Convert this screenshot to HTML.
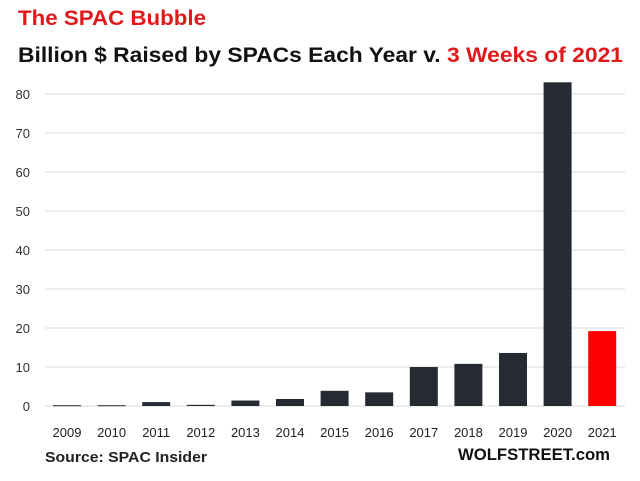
<!DOCTYPE html>
<html><head><meta charset="utf-8"><style>
body{margin:0;background:#fff;}
svg{display:block;font-family:"Liberation Sans",sans-serif;}
</style></head><body>
<svg id="c" width="640" height="481">
<text x="18" y="25" font-size="21" font-weight="bold" fill="#e0191b" textLength="188" lengthAdjust="spacingAndGlyphs">The SPAC Bubble</text>
<text x="18" y="62" font-size="21" font-weight="bold" fill="#111" textLength="605" lengthAdjust="spacingAndGlyphs">Billion $ Raised by SPACs Each Year v. <tspan fill="#e0191b">3 Weeks of 2021</tspan></text>
<g id="grid"></g><g id="bars"></g><g id="xl"></g>
<text x="45" y="462" font-size="15" font-weight="bold" fill="#222" textLength="162" lengthAdjust="spacingAndGlyphs">Source: SPAC Insider</text>
<text x="610" y="460" font-size="17" font-weight="bold" fill="#111" text-anchor="end" textLength="152" lengthAdjust="spacingAndGlyphs">WOLFSTREET.com</text>
</svg>
<script>
const categories=["2009","2010","2011","2012","2013","2014","2015","2016","2017","2018","2019","2020","2021"];
const values=[0.2,0.2,1.0,0.3,1.4,1.8,3.9,3.5,10.0,10.8,13.6,83.0,19.2];
const ticks=[0,10,20,30,40,50,60,70,80];
const NS="http://www.w3.org/2000/svg";
const y=v=>406-v*3.9;
const x=i=>67+i*44.6;
function mk(t,a,p){const e=document.createElementNS(NS,t);for(const k in a)e.setAttribute(k,a[k]);p.appendChild(e);return e;}
const g=document.getElementById('grid');
ticks.forEach(t=>{
 const l=mk('line',{x1:45,x2:625,y1:y(t),y2:y(t),stroke:'#d9d9d9','stroke-width':1},g);
 
 
 const tx=mk('text',{x:30,y:y(t)+5,'font-size':13,fill:'#333','text-anchor':'end'},g);
 tx.textContent=t;
 
 
});
const b=document.getElementById('bars'),xl=document.getElementById('xl');
categories.forEach((c,i)=>{
 const r=mk('rect',{x:x(i)-14,y:y(values[i]),width:28,height:Math.max(1,406-y(values[i])),fill:c==="2021"?'#ff0000':'#252a33'},b);
 
 
 const t=mk('text',{x:x(i),y:437,'font-size':13,fill:'#222','text-anchor':'middle'},xl);
 t.textContent=c;
 
 
});
</script>
</body></html>
